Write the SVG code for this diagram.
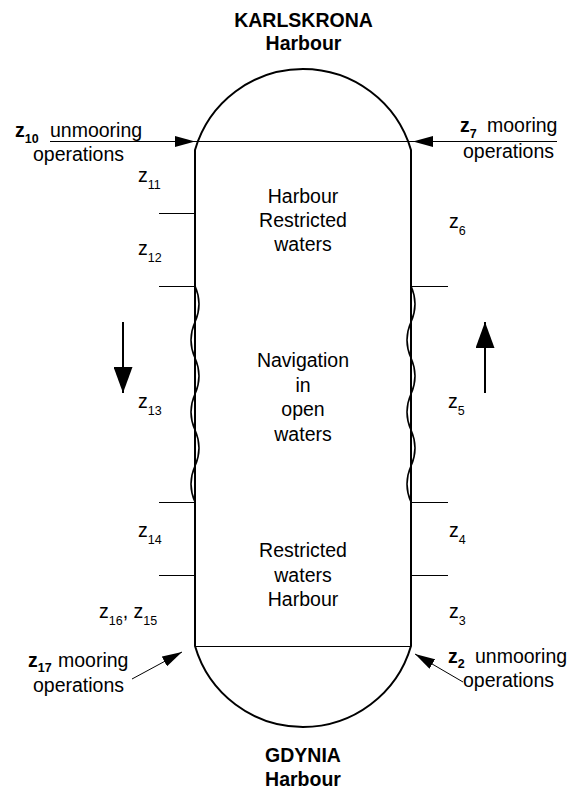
<svg xmlns="http://www.w3.org/2000/svg" width="580" height="789" viewBox="0 0 580 789">
  <style>
    text { font-family: "Liberation Sans", Arial, sans-serif; fill: #000; }
    .t { font-size: 19.5px; }
    .c { text-anchor: middle; }
    .b { font-weight: bold; }
    .sub { font-size: 12.5px; }
    .wall { fill: none; stroke: #000; stroke-width: 2; }
    .thin { fill: none; stroke: #000; stroke-width: 1; }
    .wave { fill: none; stroke: #000; stroke-width: 1.6; }
    .conn { fill: none; stroke: #000; stroke-width: 1; }
    .big { fill: none; stroke: #000; stroke-width: 2; }
  </style>
  <defs>
    <marker id="head" markerUnits="userSpaceOnUse" markerWidth="20" markerHeight="11" refX="20" refY="5.5" orient="auto">
      <path d="M0,0 L20,5.5 L0,11 Z" fill="#000"/>
    </marker>
    <marker id="bighead" markerUnits="userSpaceOnUse" markerWidth="26" markerHeight="19" refX="26" refY="9.5" orient="auto">
      <path d="M0,0 L26,9.5 L0,19 Z" fill="#000"/>
    </marker>
  </defs>
  <rect width="580" height="789" fill="#fff"/>

  <!-- route capsule: harbours at the rounded ends, sea passage between -->
  <g id="route">
    <path class="wall" d="M195,150 A112.5,112.5 0 0 1 411,150 L411,646 A112.5,112.5 0 0 1 195,646 Z"/>
    <line class="thin" x1="195" y1="646.5" x2="411" y2="646.5"/>
    <!-- open-water stretch drawn with wavy edges -->
    <path class="wave" d="M195,286 Q203,304 195,322 T195,358 T195,394 T195,430 T195,466 T195,502"/>
    <path class="wave" d="M411,286 Q419,304 411,322 T411,358 T411,394 T411,430 T411,466 T411,502"/>
    <!-- zone boundary ticks -->
    <line class="thin" x1="159" y1="213.5" x2="195" y2="213.5"/>
    <line class="thin" x1="159" y1="286.5" x2="195" y2="286.5"/>
    <line class="thin" x1="159" y1="502.5" x2="195" y2="502.5"/>
    <line class="thin" x1="159" y1="575.5" x2="195" y2="575.5"/>
    <line class="thin" x1="411" y1="286.5" x2="448" y2="286.5"/>
    <line class="thin" x1="411" y1="502.5" x2="448" y2="502.5"/>
    <line class="thin" x1="411" y1="575.5" x2="448" y2="575.5"/>
  </g>

  <g id="karlskrona">
    <text class="t b c" x="303.5" y="27">KARLSKRONA</text>
    <text class="t b c" x="303.5" y="50">Harbour</text>
  </g>
  <g id="gdynia">
    <text class="t b c" x="303" y="762">GDYNIA</text>
    <text class="t b c" x="303" y="786">Harbour</text>
  </g>

  <g id="zone-north">
    <text class="t c" x="303" y="203">Harbour</text>
    <text class="t c" x="303" y="227">Restricted</text>
    <text class="t c" x="303" y="251">waters</text>
  </g>
  <g id="zone-open">
    <text class="t c" x="303" y="367">Navigation</text>
    <text class="t c" x="303" y="391.5">in</text>
    <text class="t c" x="303" y="416">open</text>
    <text class="t c" x="303" y="440.5">waters</text>
  </g>
  <g id="zone-south">
    <text class="t c" x="303" y="557">Restricted</text>
    <text class="t c" x="303" y="582">waters</text>
    <text class="t c" x="303" y="606">Harbour</text>
  </g>

  <!-- state labels, southbound side -->
  <g id="z10">
    <text class="t b" x="15" y="137">z<tspan class="sub" dy="6">10</tspan></text>
    <text class="t" x="50" y="137">unmooring</text>
    <text class="t" x="33" y="161">operations</text>
  </g>
  <g id="z11"><text class="t" x="138" y="182">z<tspan class="sub" dy="7">11</tspan></text></g>
  <g id="z12"><text class="t" x="138" y="255">z<tspan class="sub" dy="7">12</tspan></text></g>
  <g id="z13"><text class="t" x="138" y="408">z<tspan class="sub" dy="7">13</tspan></text></g>
  <g id="z14"><text class="t" x="138" y="537">z<tspan class="sub" dy="7">14</tspan></text></g>
  <g id="z16-z15"><text class="t" x="99" y="618">z<tspan class="sub" dy="7">16</tspan><tspan dy="-7">, z</tspan><tspan class="sub" dy="7">15</tspan></text></g>
  <g id="z17">
    <text class="t b" x="28" y="667">z<tspan class="sub" dy="5">17</tspan></text>
    <text class="t" x="58" y="667">mooring</text>
    <text class="t" x="33" y="691.5">operations</text>
  </g>

  <!-- state labels, northbound side -->
  <g id="z2">
    <text class="t b" x="448" y="663">z<tspan class="sub" dy="5">2</tspan></text>
    <text class="t" x="475" y="663">unmooring</text>
    <text class="t" x="463" y="687">operations</text>
  </g>
  <g id="z3"><text class="t" x="449" y="618">z<tspan class="sub" dy="7">3</tspan></text></g>
  <g id="z4"><text class="t" x="449" y="537">z<tspan class="sub" dy="7">4</tspan></text></g>
  <g id="z5"><text class="t" x="448" y="408">z<tspan class="sub" dy="7">5</tspan></text></g>
  <g id="z6"><text class="t" x="449" y="228">z<tspan class="sub" dy="7">6</tspan></text></g>
  <g id="z7">
    <text class="t b" x="460" y="132">z<tspan class="sub" dy="6">7</tspan></text>
    <text class="t" x="487" y="132">mooring</text>
    <text class="t" x="463" y="158">operations</text>
  </g>

  <g id="connectors">
    <line class="conn" x1="195" y1="141.5" x2="413" y2="141.5"/>
    <line class="conn" x1="50" y1="141.5" x2="195" y2="141.5" marker-end="url(#head)"/>
    <line class="conn" x1="557" y1="141.5" x2="413" y2="141.5" marker-end="url(#head)"/>
    <line class="conn" x1="132" y1="679" x2="182" y2="652" marker-end="url(#head)"/>
    <line class="conn" x1="463" y1="682" x2="415" y2="654" marker-end="url(#head)"/>
    <line class="big" x1="123" y1="322" x2="123" y2="393" marker-end="url(#bighead)"/>
    <line class="big" x1="485" y1="393" x2="485" y2="322" marker-end="url(#bighead)"/>
  </g>
</svg>
